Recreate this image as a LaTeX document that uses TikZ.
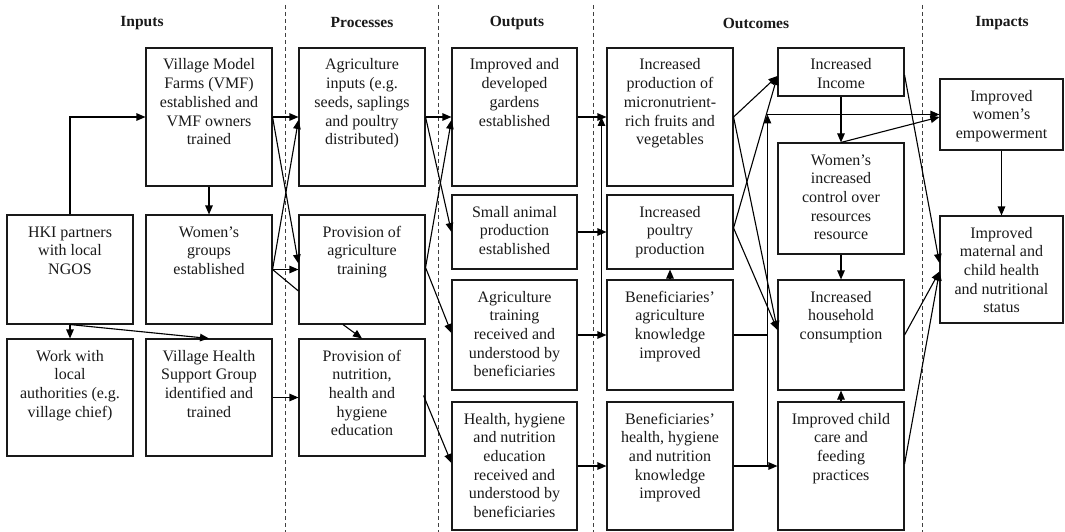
\documentclass[tikz,border=0pt]{standalone}
\usepackage{fontspec}
\setmainfont{Liberation Serif}
\usetikzlibrary{arrows.meta,calc}
% top-aligned, centred text block of fixed width and height
\newcommand{\boxtxt}[3]{\parbox[c][#2][t]{#1}{\centering\rule{0pt}{22pt}#3}}
\begin{document}
\begin{tikzpicture}[x=1pt,y=-1pt,
  box/.style={draw=black!90,line width=1.1pt,inner sep=0pt,text=black!90,
    font=\fontsize{16pt}{18.7pt}\selectfont},
  head/.style={font=\fontsize{15.5pt}{18pt}\selectfont\bfseries,text=black!90},
  link/.style={line width=1.1pt,draw=black},
  arr/.style={link,-{Triangle[length=9pt,width=7.5pt]}},
  sep/.style={draw=black!75,line width=0.9pt,dash pattern=on 4pt off 3pt}]
\useasboundingbox (0,0) rectangle (1065,532);

% column headings
\node[head] (hIn)  at (142,23) {Inputs};
\node[head] (hPr)  at (362,23) {Processes};
\node[head] (hOut) at (517,23) {Outputs};
\node[head] (hOc)  at (756,23) {Outcomes};
\node[head] (hIm)  at (1002,23) {Impacts};

% column separators
\draw[sep] (285,5) -- (285,532);
\draw[sep] (438,5) -- (438,532);
\draw[sep] (593,5) -- (593,532);
\draw[sep] (922,5) -- (922,532);

% Inputs
\node[box] (vmf)  at (209,117)   {\boxtxt{126pt}{138pt}{Village Model\\Farms (VMF)\\established and\\VMF owners\\trained}};
\node[box] (hki)  at (70,269.5)  {\boxtxt{126pt}{109pt}{HKI partners\\with local\\NGOS}};
\node[box] (wg)   at (209,269.5) {\boxtxt{126pt}{109pt}{Women’s\\groups\\established}};
\node[box] (work) at (70,397.5)  {\boxtxt{126pt}{117pt}{Work with\\local\\authorities (e.g.\\village chief)}};
\node[box] (vhsg) at (209,397.5) {\boxtxt{126pt}{117pt}{Village Health\\Support Group\\identified and\\trained}};

% Processes
\node[box] (ainp)   at (362,117)   {\boxtxt{126pt}{138pt}{Agriculture\\inputs (e.g.\\seeds, saplings\\and poultry\\distributed)}};
\node[box] (atrain) at (362,269.5) {\boxtxt{126pt}{109pt}{Provision of\\agriculture\\training}};
\node[box] (pnut)   at (362,397.5) {\boxtxt{126pt}{117pt}{Provision of\\nutrition,\\health and\\hygiene\\education}};

% Outputs
\node[box] (gard) at (514.5,117) {\boxtxt{125pt}{138pt}{Improved and\\developed\\gardens\\established}};
\node[box] (anim) at (514.5,232) {\boxtxt{125pt}{74pt}{Small animal\\production\\established}};
\node[box] (atr)  at (514.5,335) {\boxtxt{125pt}{110pt}{Agriculture\\training\\received and\\understood by\\beneficiaries}};
\node[box] (hhr)  at (514.5,466) {\boxtxt{125pt}{128pt}{Health, hygiene\\and nutrition\\education\\received and\\understood by\\beneficiaries}};

% Outcomes, first column
\node[box] (micro) at (670,117) {\boxtxt{126pt}{138pt}{Increased\\production of\\micronutrient-\\rich fruits and\\vegetables}};
\node[box] (poul)  at (670,232) {\boxtxt{126pt}{74pt}{Increased\\poultry\\production}};
\node[box] (bak)   at (670,335) {\boxtxt{126pt}{110pt}{Beneficiaries’\\agriculture\\knowledge\\improved}};
\node[box] (bhk)   at (670,466) {\boxtxt{126pt}{128pt}{Beneficiaries’\\health, hygiene\\and nutrition\\knowledge\\improved}};

% Outcomes, second column
\node[box] (inc) at (841,72)    {\boxtxt{126pt}{48pt}{Increased\\Income}};
\node[box] (wic) at (841,198.5) {\boxtxt{126pt}{111pt}{Women’s\\increased\\control over\\resources\\resource}};
\node[box] (hhc) at (841,335)   {\boxtxt{126pt}{110pt}{Increased\\household\\consumption}};
\node[box] (ccf) at (841,466)   {\boxtxt{126pt}{128pt}{Improved child\\care and\\feeding\\practices}};

% Impacts
\node[box] (emp) at (1001.5,114.5) {\boxtxt{123pt}{71pt}{Improved\\women’s\\empowerment}};
\node[box] (mat) at (1001.5,269.5) {\boxtxt{123pt}{107pt}{Improved\\maternal and\\child health\\and nutritional\\status}};

% Inputs links
\draw[arr] (hki.north) |- (vmf.west);
\draw[arr] (vmf.south) -- (wg.north);
\draw[arr] (hki.south) -- (work.north);
\draw[arr] (hki.south) -- (vhsg.north);

% Inputs -> Processes
\draw[arr] (vmf.east) -- (ainp.west);
\draw[arr] (vmf.east) -- ($(atrain.west)+(0,-6)$);
\draw[arr] (wg.east) -- ($(ainp.west)+(0,3)$);
\draw[arr] (wg.east) -- (atrain.west);
\draw[link] (wg.east) -- ($(atrain.west)+(0,21.5)$);
\draw[arr] ($(atrain.south)+(-19,0)$) -- (pnut.north);
\draw[arr] (vhsg.east) -- (pnut.west);

% Processes -> Outputs
\draw[arr] (ainp.east) -- (gard.west);
\draw[arr] (ainp.east) -- (anim.west);
\draw[arr] ($(atrain.east)+(0,-2)$) -- ($(gard.west)+(0,3)$);
\draw[arr] ($(atrain.east)+(0,-2)$) -- ($(atr.west)+(0,-2)$);
\draw[arr] ($(pnut.east)+(-2,-2)$) -- ($(hhr.west)+(0,-3)$);

% Outputs -> Outcomes
\coordinate (j1) at ($(bak.west)+(-5,0)$);
\draw[arr] (gard.east) -- (micro.west);
\draw[arr] (anim.east) -- (poul.west);
\draw[arr] (atr.east) -- (bak.west);
\draw[arr] (hhr.east) -- (bhk.west);
\draw[arr] (j1) -- (j1 |- micro.west);
\draw[arr] (bak.north) -- (poul.south);

% Outcomes links
\draw[arr] (micro.east) -- ($(inc.west)+(0,4)$);
\draw[arr] (micro.east) -- ($(hhc.west)+(0,-5)$);
\draw[arr] ($(poul.east)+(0,-4)$) -- ($(inc.west)+(0,4)$);
\draw[arr] ($(poul.east)+(0,-4)$) -- ($(hhc.west)+(0,-5)$);
\draw[arr] (bhk.east) -- (ccf.west);
\coordinate (j2) at ($(ccf.west)+(-10,0)$);
\coordinate (j3) at (j2 |- emp.west);
\draw[link] (bak.east) -- (j2 |- bak.east);
\draw[arr,line width=1.6pt] (j2) -- (j3);
\draw[arr] (j3) -- (emp.west);
\draw[arr] (inc.south) -- (wic.north);
\draw[arr] (wic.south) -- (hhc.north);
\draw[arr] (ccf.north) -- (hhc.south);

% Outcomes -> Impacts
\draw[arr] (wic.north) -- ($(emp.west)+(0,2.5)$);
\draw[arr] ($(inc.east)+(0,3)$) -- ($(mat.west)+(0,-6.5)$);
\draw[arr] (hhc.east) -- ($(mat.west)+(0,2)$);
\draw[arr] ($(ccf.east)+(0,-2)$) -- ($(mat.west)+(0,2)$);
\draw[arr] (emp.south) -- (mat.north);
\end{tikzpicture}
\end{document}
